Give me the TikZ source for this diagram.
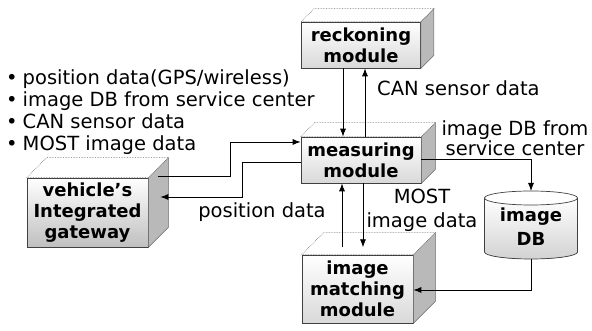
\documentclass[tikz,border=0pt]{standalone}
\usepackage{fontspec}
\setmainfont{DejaVu Sans}
\usetikzlibrary{arrows.meta}

\tikzset{
  front/.style={draw=black!75, line width=0.7pt, top color=white, bottom color=gray!30,
    align=center, inner sep=0pt, font=\fontsize{18}{21}\selectfont\bfseries},
  sideface/.style={fill=gray!55, draw=black!60, line width=0.6pt},
  topface/.style={fill=white, draw=black!60, line width=0.6pt, densely dotted},
  boxtxt/.style={align=center, inner sep=0pt, font=\fontsize{18}{24}\selectfont\bfseries},
  lbl/.style={inner sep=0pt, font=\fontsize{19.5}{22}\selectfont},
  conn/.style={line width=0.8pt},
  arr/.style={conn, -{Latex[length=8pt,width=6pt]}},
}
\newcommand{\boxdepth}[2]{%
  \filldraw[sideface] (#1.north east) -- ++(#2,#2) -- ([shift={(#2,#2)}]#1.south east) -- (#1.south east) -- cycle;
  \filldraw[topface] (#1.north west) -- ++(#2,#2) -- ([shift={(#2,#2)}]#1.north east) -- (#1.north east) -- cycle;
}

\begin{document}
\begin{tikzpicture}[x=1pt,y=1pt]
  \useasboundingbox (0,0) rectangle (592,331);
  \node[front, minimum width=119, minimum height=46] (reck) at (361,286) {reckoning\\module};
  \node[front, minimum width=120, minimum height=46] (meas) at (361,171) {measuring\\module};
  \node[front, minimum width=121, minimum height=69, bottom color=gray!50] (gate) at (87.5,118.5) {vehicle’s\\Integrated\\gateway};
  \node[front, minimum width=111, minimum height=68] (match) at (357.5,42) {image\\matching\\module};
  \boxdepth{reck}{13}
  \boxdepth{meas}{14}
  \boxdepth{gate}{20}
  \boxdepth{match}{22}

  \coordinate (dbtop) at (531,140);
  \coordinate (dbbot) at (531,72);
  \fill[top color=white, bottom color=gray!35] (484.5,133) -- (484.5,79)
    arc[start angle=180, end angle=360, x radius=46.5, y radius=7] -- (577.5,133) -- cycle;
  \draw[line width=0.7pt, black!75] (484.5,133) -- (484.5,79)
    arc[start angle=180, end angle=360, x radius=46.5, y radius=7] -- (577.5,133);
  \draw[line width=0.7pt, black!75, fill=white] (531,133) ellipse[x radius=46.5, y radius=7];
  \node[boxtxt] (db) at (531,104.5) {image\\DB};

  \node[lbl, align=left, anchor=north west] (feat) at (6,262)
    {•\hspace{5pt}position data(GPS/wireless)\\•\hspace{5pt}image DB from service center\\•\hspace{5pt}CAN sensor data\\•\hspace{5pt}MOST image data};
  \node[lbl, anchor=west] (canlbl) at (377,243) {CAN sensor data};
  \node[lbl, align=center, font=\fontsize{19.5}{20}\selectfont] (srclbl) at (515,193) {image DB from\\service center};
  \node[lbl, align=center, font=\fontsize{19.5}{24}\selectfont] (mostlbl) at (422,121) {MOST\\image data};
  \node[lbl] (poslbl) at (262,119) {position data};

  \draw[arr] ([xshift=-18pt]reck.south) -- ([xshift=-18pt]meas.north);
  \draw[arr] ([xshift=4pt]meas.north) -- ([xshift=4pt]reck.south);
  \draw[arr] ([xshift=2pt]meas.south) -- ++(0,-64);
  \draw[arr] ([xshift=-19pt,yshift=-64pt]meas.south) -- ([xshift=-19pt]meas.south);
  \draw[arr] ([xshift=10pt,yshift=36.5pt]gate.east) -- ++(72,0) |- ([yshift=18pt]meas.west);
  \draw[arr] ([yshift=-2pt]meas.west) -- ++(-58,0) |- ([xshift=12pt,yshift=15.5pt]gate.east);
  \draw[arr] ([yshift=1pt]meas.east) -| (dbtop);
  \draw[arr] (dbbot) |- ([yshift=-1pt]match.east);
\end{tikzpicture}
\end{document}
